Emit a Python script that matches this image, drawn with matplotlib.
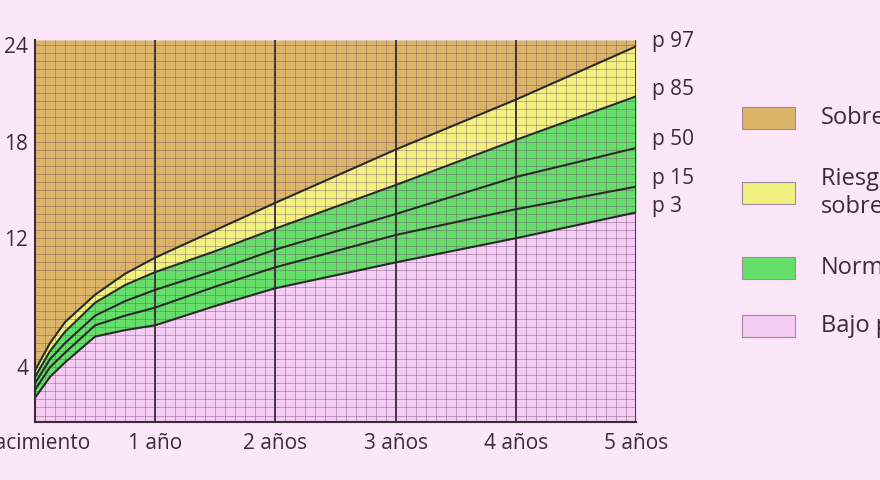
import numpy as np
import matplotlib
matplotlib.use("Agg")
import matplotlib.pyplot as plt
from matplotlib.patches import Rectangle

ages = [0, 0.125, 0.25, 0.5, 0.75, 1, 1.5, 2, 3, 4, 5]
p3 = [2.1, 3.4, 4.3, 5.9, 6.3, 6.6, 7.8, 8.9, 10.5, 12.0, 13.6]
p15 = [2.6, 4.0, 4.9, 6.6, 7.2, 7.7, 9.0, 10.2, 12.2, 13.8, 15.2]
p50 = [3.0, 4.5, 5.5, 7.2, 8.1, 8.8, 10.0, 11.3, 13.5, 15.8, 17.6]
p85 = [3.4, 5.0, 6.2, 8.0, 9.1, 9.9, 11.2, 12.6, 15.3, 18.1, 20.8]
p97 = [3.8, 5.5, 6.8, 8.5, 9.8, 10.8, 12.5, 14.2, 17.5, 20.6, 23.9]
pct_labels = ["p 97", "p 85", "p 50", "p 15", "p 3"]
ytick_vals = [4, 12, 18, 24]
ytick_labels = ["4", "12", "18", "24"]
xtick_labels = ["Nacimiento", "1 año", "2 años", "3 años", "4 años", "5 años"]
legend_labels = ["Sobrepeso", "Riesgo de\nsobrepeso", "Normal", "Bajo peso"]
colors = ["#dbb467", "#f2f07e", "#66df6a", "#f5cdf4"]
bg = "#fbe6fa"
ink = "#3a2b3a"

YMIN, YMAX = 0.6, 24.3
fig = plt.figure(figsize=(8.8, 4.8), dpi=100, facecolor=bg)
ax = fig.add_axes([35/880, 1-422/480, 601/880, 382/480])
ax.set_xlim(0, 5)
ax.set_ylim(YMIN, YMAX)
ax.set_facecolor(bg)

ax.fill_between(ages, p97, YMAX, color=colors[0], lw=0, zorder=1)
ax.fill_between(ages, p85, p97, color=colors[1], lw=0, zorder=1)
ax.fill_between(ages, p3, p85, color=colors[2], lw=0, zorder=1)
ax.fill_between(ages, YMIN, p3, color=colors[3], lw=0, zorder=1)

# grid
for m in np.arange(0, 5.0001, 1/12):
    ax.axvline(m, color="#6a4a6a", lw=0.5, alpha=0.55, zorder=2)
for v in np.arange(1.0, YMAX, 0.5):
    ax.axhline(v, color="#6a4a6a", lw=0.5, alpha=0.55, zorder=2)
for yr in range(1, 6):
    ax.axvline(yr, color=ink, lw=1.3, zorder=3)

for s in [p97, p85, p50, p15, p3]:
    ax.plot(ages, s, color="#2a2a2a", lw=1.5, zorder=4)

for sp in ax.spines.values():
    sp.set_visible(False)
ax.spines["left"].set_visible(True)
ax.spines["bottom"].set_visible(True)
ax.spines["left"].set_color(ink)
ax.spines["bottom"].set_color(ink)
ax.spines["left"].set_linewidth(1.5)
ax.spines["bottom"].set_linewidth(1.5)
ax.set_xticks(range(6))
ax.set_xticklabels(xtick_labels, fontsize=15, color=ink, family="Open Sans")
ax.set_yticks(ytick_vals)
ax.set_yticklabels(ytick_labels, fontsize=15, color=ink, family="Open Sans")
ax.tick_params(length=0, pad=5)
ax.tick_params(axis="x", pad=8)

for lab, s, yadj in zip(pct_labels, [p97, p85, p50, p15, p3], [0.3, 0.4, 0.5, 0.5, 0.4]):
    ax.text(5.13, s[-1] + yadj, lab, fontsize=15, color=ink, family="Open Sans",
            va="center", ha="left", clip_on=False)

leg_y = [118, 193, 268, 326]
for lab, c, yy in zip(legend_labels, colors, leg_y):
    fig.patches.append(Rectangle((742/880, 1-(yy+11)/480), 53/880, 22/480,
                                 transform=fig.transFigure, facecolor=c,
                                 edgecolor="#a08aa0", lw=0.8))
    fig.text(821/880, 1-yy/480, lab, fontsize=17, color=ink, family="Open Sans",
             va="center", ha="left", linespacing=1.2)

fig.savefig("out.png", dpi=100, facecolor=bg)
